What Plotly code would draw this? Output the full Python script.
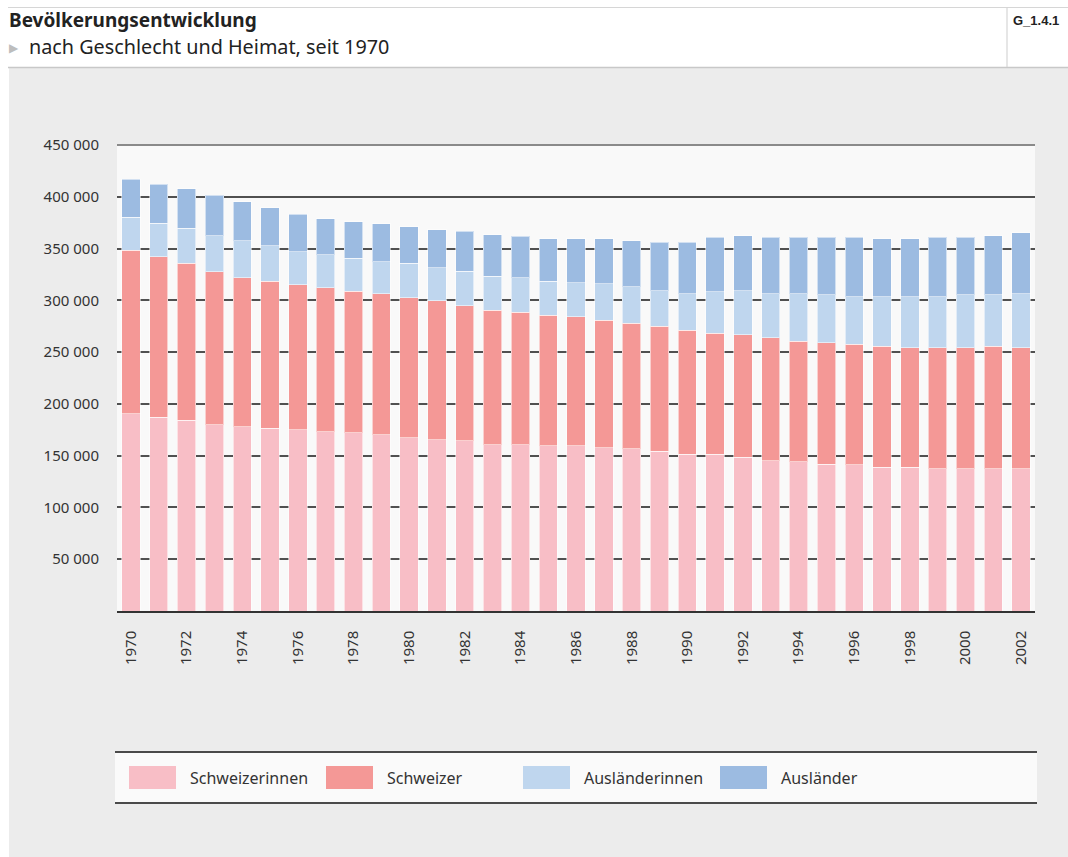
import plotly.graph_objects as go

# ---------------- data ----------------
years = list(range(1970, 2003))
schweizerinnen = [190600, 187300, 184400, 179900, 177900, 176600, 175000, 173100, 172100, 170100,
                  167200, 165300, 164300, 160700, 160700, 159400, 159400, 157800, 156500, 154500,
                  151600, 151600, 148700, 145200, 143900, 141900, 141000, 139000, 139000, 137400,
                  137400, 137400, 137400]
schweizer = [157800, 154900, 151200, 147900, 144000, 141700, 140000, 139000, 136700, 136100,
             135400, 134400, 130500, 129500, 127900, 126200, 124600, 123200, 121600, 120300,
             119600, 116700, 118300, 118500, 116600, 117300, 116500, 116600, 115200, 116800,
             116800, 118200, 116800]
auslaenderinnen = [31800, 32300, 34200, 34500, 35600, 34500, 32100, 32000, 31700, 31100,
                   33300, 31700, 33300, 33300, 33000, 33000, 33200, 34900, 34900, 34600,
                   35300, 39800, 42400, 42800, 46000, 46000, 46100, 48000, 49400, 49400,
                   51000, 49600, 52300]
auslaender = [36700, 37800, 38000, 39300, 37800, 36500, 36200, 34800, 35300, 36600,
              35200, 36800, 38600, 40000, 40400, 40800, 42200, 43500, 44500, 46500,
              49400, 52600, 52900, 54200, 54200, 55500, 57100, 55800, 55800, 57100,
              55500, 57100, 58600]

series_names = ["Schweizerinnen", "Schweizer", "Ausländerinnen", "Ausländer"]
series_colors = ["#F8BEC6", "#F49896", "#BFD6EE", "#9CBBE1"]
series_values = [schweizerinnen, schweizer, auslaenderinnen, auslaender]

y_tickvals = [50000, 100000, 150000, 200000, 250000, 300000, 350000, 400000, 450000]
y_ticktext = ["50 000", "100 000", "150 000", "200 000", "250 000",
              "300 000", "350 000", "400 000", "450 000"]
x_tickvals = years[::2]

title = "<b>Bevölkerungsentwicklung</b>"
subtitle = "nach Geschlecht und Heimat, seit 1970"
code = "<b>G_1.4.1</b>"

# ---------------- layout geometry ----------------
# figure fills the whole page (body margin removed below)
OFF = 0
W, H = 1068, 857
# plot area in page pixels
PL, PR, PT, PB = 117, 1035, 145, 611


def X(px):
    return (px - PL) / (PR - PL)


def Y(py):
    return (PB - py) / (PB - PT)


FONT = "Noto Sans, Open Sans, sans-serif"

fig = go.Figure()
for name, vals, col in zip(series_names, series_values, series_colors):
    fig.add_trace(go.Bar(
        x=years, y=vals, name=name,
        marker=dict(color=col, line=dict(color="rgba(255,255,255,0.55)", width=1)),
        showlegend=False,
    ))

shapes = []
# white header / left strip
shapes.append(dict(type="rect", xref="paper", yref="paper", x0=X(-5), x1=X(1100), y0=Y(-5), y1=Y(68),
                   fillcolor="white", line=dict(width=0), layer="below"))
shapes.append(dict(type="rect", xref="paper", yref="paper", x0=X(-5), x1=X(9), y0=Y(-5), y1=Y(900),
                   fillcolor="white", line=dict(width=0), layer="below"))
# header lines
shapes.append(dict(type="line", xref="paper", yref="paper", x0=X(8), x1=X(1100), y0=Y(7.5), y1=Y(7.5),
                   line=dict(color="#d6d6d6", width=1.2)))
shapes.append(dict(type="line", xref="paper", yref="paper", x0=X(8), x1=X(1100), y0=Y(67.5), y1=Y(67.5),
                   line=dict(color="#c8c8c8", width=1.5)))
shapes.append(dict(type="line", xref="paper", yref="paper", x0=X(1007), x1=X(1007), y0=Y(7), y1=Y(67),
                   line=dict(color="#d6d6d6", width=1.2)))
# top border of plot area (450 000 line)
shapes.append(dict(type="line", xref="paper", yref="paper", x0=0, x1=1, y0=1, y1=1,
                   line=dict(color="#8a8a8a", width=2)))
# legend box
shapes.append(dict(type="rect", xref="paper", yref="paper", x0=X(115), x1=X(1037), y0=Y(752), y1=Y(803),
                   fillcolor="#fafafa", line=dict(width=0)))
shapes.append(dict(type="line", xref="paper", yref="paper", x0=X(115), x1=X(1037), y0=Y(752), y1=Y(752),
                   line=dict(color="#4a4a4a", width=2)))
shapes.append(dict(type="line", xref="paper", yref="paper", x0=X(115), x1=X(1037), y0=Y(803), y1=Y(803),
                   line=dict(color="#4a4a4a", width=2)))

annotations = []
legend_x = [129, 326, 523, 720]
for lx, name, col in zip(legend_x, series_names, series_colors):
    shapes.append(dict(type="rect", xref="paper", yref="paper", x0=X(lx), x1=X(lx + 47),
                       y0=Y(766), y1=Y(789), fillcolor=col, line=dict(width=0)))
    annotations.append(dict(text=name, xref="paper", yref="paper", x=X(lx + 59), y=Y(777.5),
                            xanchor="left", yanchor="middle", showarrow=False,
                            font=dict(family=FONT, size=16, color="#333333")))

annotations.append(dict(text=title, xref="paper", yref="paper", x=X(7), y=Y(20),
                        xanchor="left", yanchor="middle", showarrow=False,
                        font=dict(family=FONT, size=19, color="#222222")))
annotations.append(dict(text="\u25B6", xref="paper", yref="paper", x=X(7), y=Y(48),
                        xanchor="left", yanchor="middle", showarrow=False,
                        font=dict(family="DejaVu Sans", size=12, color="#bdbdbd")))
annotations.append(dict(text=subtitle, xref="paper", yref="paper", x=X(27), y=Y(47),
                        xanchor="left", yanchor="middle", showarrow=False,
                        font=dict(family=FONT, size=19.8, color="#222222")))
annotations.append(dict(text=code, xref="paper", yref="paper", x=X(1036), y=Y(21),
                        xanchor="center", yanchor="middle", showarrow=False,
                        font=dict(family="Liberation Sans Narrow, Arial Narrow, sans-serif", size=13,
                                  color="#222222")))

fig.update_layout(
    width=W, height=H,
    margin=dict(l=PL - OFF, r=W - (PR - OFF), t=PT - OFF, b=H - (PB - OFF), pad=0),
    paper_bgcolor="#ececec",
    plot_bgcolor="#f9f9f9",
    barmode="stack",
    bargap=0.34,
    showlegend=False,
    hovermode=False,
    shapes=shapes,
    annotations=annotations,
    xaxis=dict(
        range=[1969.5, 2002.5], tickvals=x_tickvals, tickangle=-90,
        showgrid=False, zeroline=False, showline=True, linecolor="#333333", linewidth=1.5,
        ticks="outside", ticklen=12, tickcolor="rgba(0,0,0,0)",
        tickfont=dict(family=FONT, size=15, color="#333333"),
    ),
    yaxis=dict(
        range=[0, 450000], tickvals=y_tickvals, ticktext=y_ticktext,
        showgrid=True, gridcolor="#505050", gridwidth=1.5, zeroline=False, showline=False,
        ticks="outside", ticklen=14, tickcolor="rgba(0,0,0,0)",
        tickfont=dict(family=FONT, size=15, color="#333333"),
    ),
)

fig.write_html(
    "out.html",
    config={"displayModeBar": False},
    post_script="document.body.style.margin='0';document.documentElement.style.overflow='hidden';",
)
